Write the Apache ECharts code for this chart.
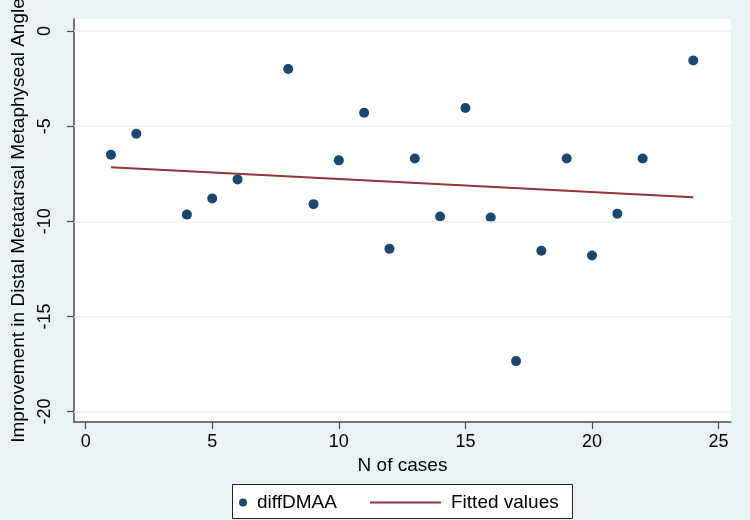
<!DOCTYPE html>
<html>
<head>
<meta charset="utf-8">
<script src="https://cdn.jsdelivr.net/npm/echarts@6/dist/echarts.min.js"></script>
<style>
  html, body { margin: 0; padding: 0; background: #EAF2F3; }
  #chart { width: 750px; height: 520px; }
</style>
</head>
<body>
<div id="chart"></div>
<script>
// ---- data ----
var caseN   = [1, 2, 4, 5, 6, 8, 9, 10, 11, 12, 13, 14, 15, 16, 17, 18, 19, 20, 21, 22, 24];
var diffDMAA = [-6.5, -5.4, -9.65, -8.8, -7.8, -2.0, -9.1, -6.8, -4.3, -11.45, -6.7, -9.75, -4.05, -9.8, -17.35, -11.55, -6.7, -11.8, -9.6, -6.7, -1.55];
var fitX = [1, 24];
var fitY = [-7.16, -8.74];
var xTicks = [0, 5, 10, 15, 20, 25];
var yTicks = [-20, -15, -10, -5, 0];

var FONT = '"Liberation Sans", Arial, Helvetica, sans-serif';
var NAVY = '#1A476F';
var MAROON = '#90353B';
var AXIS = '#4a4a4a';
var BG = '#EAF2F3';

var scatterData = caseN.map(function (x, i) { return [x, diffDMAA[i]]; });
var fitData = fitX.map(function (x, i) { return [x, fitY[i]]; });
var gridLines = yTicks.map(function (v) { return { yAxis: v }; });

var chart = echarts.init(document.getElementById('chart'), null, { renderer: 'canvas' });
chart.setOption({
  backgroundColor: BG,
  animation: false,
  textStyle: { fontFamily: FONT },
  grid: {
    left: 74, right: 19, top: 19, bottom: 98,
    containLabel: false,
    outerBoundsMode: 'none',
    show: true, backgroundColor: '#ffffff', borderWidth: 0
  },
  xAxis: {
    type: 'value',
    min: -0.46, max: 25.49,
    name: 'N of cases',
    nameLocation: 'middle',
    nameGap: 34,
    nameTextStyle: { fontSize: 19, color: '#000', fontFamily: FONT },
    axisLine: { show: true, onZero: false, lineStyle: { color: AXIS, width: 1.5 } },
    axisTick: { show: true, length: 7, lineStyle: { color: AXIS, width: 1.2 }, customValues: xTicks },
    axisLabel: { fontSize: 18, color: '#000', margin: 11, fontFamily: FONT, customValues: xTicks },
    splitLine: { show: false }
  },
  yAxis: {
    type: 'value',
    min: -20.55, max: 0.63,
    name: 'Improvement in Distal Metatarsal Metaphyseal Angle',
    nameLocation: 'middle',
    nameGap: 31,
    nameTextStyle: { fontSize: 19, color: '#000', fontFamily: FONT },
    axisLine: { show: true, onZero: false, lineStyle: { color: AXIS, width: 1.5 } },
    axisTick: { show: true, length: 7, lineStyle: { color: AXIS, width: 1.2 }, customValues: yTicks },
    axisLabel: { fontSize: 18, color: '#000', margin: 20, rotate: 90, fontFamily: FONT, customValues: yTicks },
    splitLine: { show: false }
  },
  legend: [
    {
      data: ['diffDMAA'],
      left: 239, top: 493, padding: 0,
      itemWidth: 18, itemHeight: 8,
      icon: 'circle',
      textStyle: { fontSize: 19, color: '#000', fontFamily: FONT },
      selectedMode: false
    },
    {
      data: [{ name: 'Fitted values', icon: 'rect' }],
      left: 370, top: 493, padding: 0,
      itemWidth: 71, itemHeight: 2,
      textStyle: { fontSize: 19, color: '#000', fontFamily: FONT, padding: [0, 0, 0, 5] },
      selectedMode: false
    }
  ],
  graphic: [
    {
      type: 'rect', z: -1, silent: true,
      shape: { x: 232.5, y: 484.5, width: 340, height: 34 },
      style: { fill: '#ffffff', stroke: '#222', lineWidth: 1 }
    }
  ],
  series: [
    {
      name: 'grid', type: 'line', data: [], z: 1, silent: true,
      markLine: {
        silent: true, symbol: 'none', animation: false,
        label: { show: false },
        lineStyle: { color: BG, width: 1.5, type: 'solid' },
        data: gridLines
      }
    },
    {
      name: 'Fitted values', type: 'line', data: fitData, z: 3,
      showSymbol: false, symbol: 'none',
      lineStyle: { color: MAROON, width: 2 },
      itemStyle: { color: MAROON }
    },
    {
      name: 'diffDMAA', type: 'scatter', data: scatterData, z: 4,
      symbol: 'circle', symbolSize: 10,
      itemStyle: { color: NAVY, opacity: 1 }
    }
  ]
});
</script>
</body>
</html>
